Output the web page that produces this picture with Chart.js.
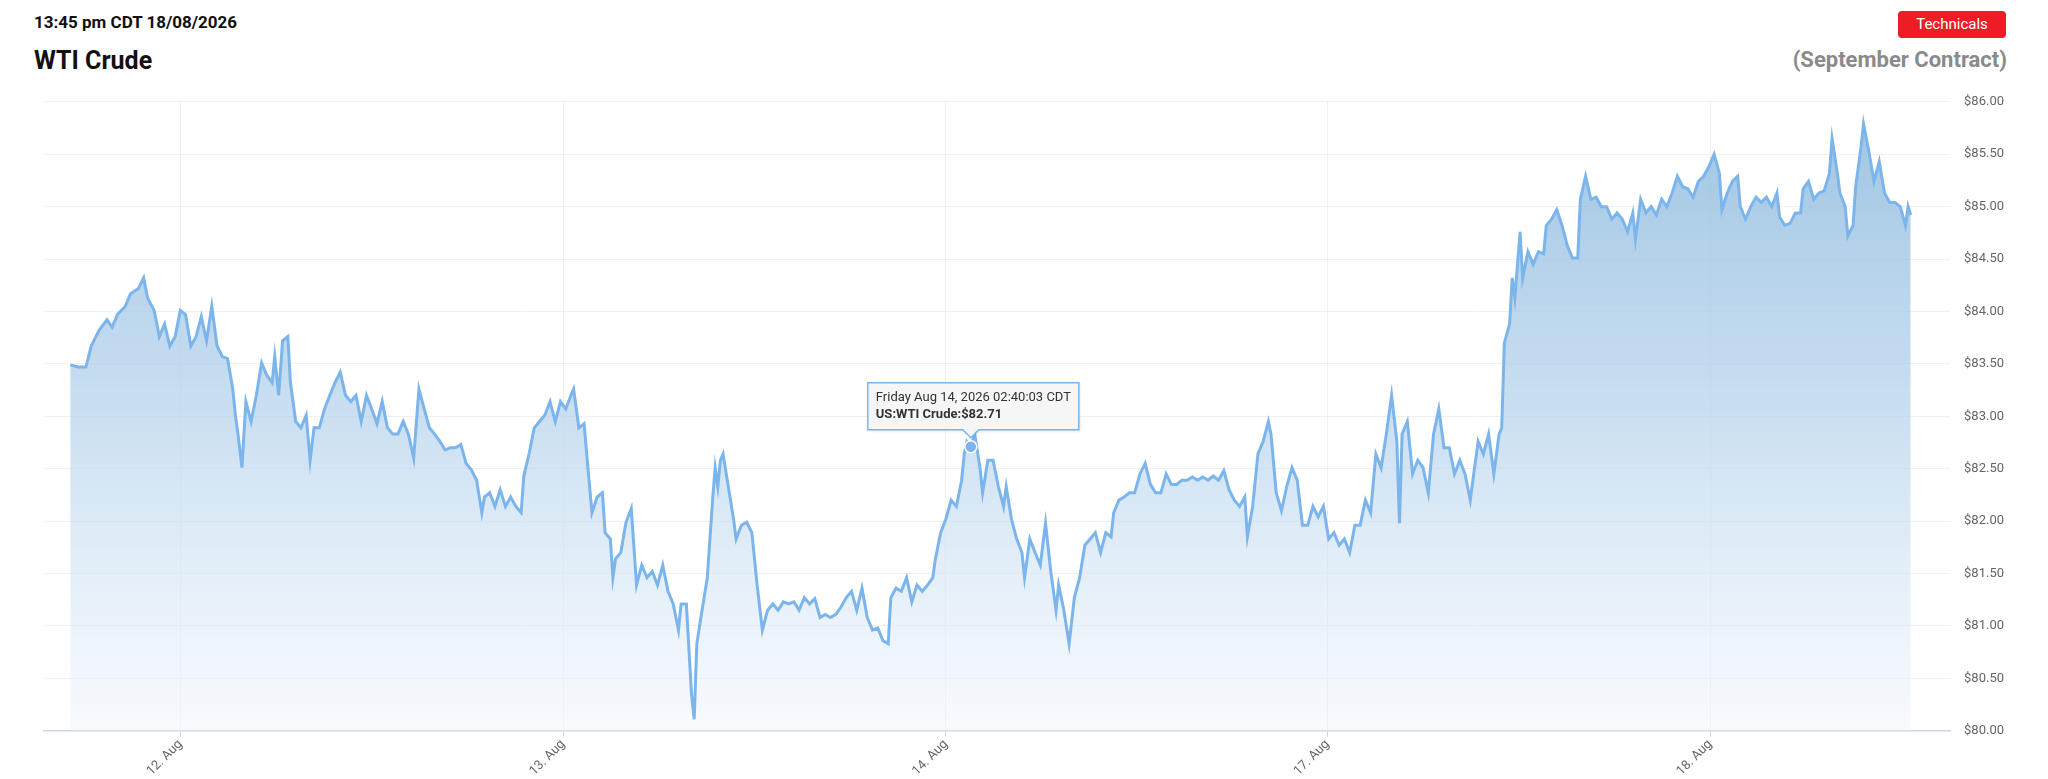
<!DOCTYPE html>
<html lang="en">
<head>
<meta charset="UTF-8">
<title>WTI Crude</title>
<script src="https://cdn.jsdelivr.net/npm/chart.js@4.4.0/dist/chart.umd.min.js"></script>
<style>
  body { margin: 0; width: 2048px; height: 779px; background: #fff; font-family: Roboto, sans-serif; position: relative; overflow: hidden; }
  .stamp { position: absolute; left: 34px; top: 12px; font-size: 17px; font-weight: bold; color: #111; }
  .title { position: absolute; left: 34px; top: 46px; font-size: 25px; font-weight: bold; color: #111; }
  .contract { position: absolute; right: 41px; top: 47px; font-size: 22px; font-weight: bold; color: #8a8a8a; }
  .btn { position: absolute; left: 1898px; top: 11px; width: 108px; height: 27px; background: #ee1c25; color: #fff; border-radius: 4px; font-size: 15px; text-align: center; line-height: 27px; }
  .chart-wrapper { position: absolute; left: 0; top: 80px; width: 2048px; height: 699px; }
</style>
</head>
<body>
  <div class="stamp">13:45 pm CDT 18/08/2026</div>
  <div class="title">WTI Crude</div>
  <div class="contract">(September Contract)</div>
  <div class="btn">Technicals</div>
  <div class="chart-wrapper"><canvas id="wti"></canvas></div>

<script>
// time axis in session units (one trading day = 292 units)
const dayTicks = [138, 430, 722, 1013, 1305];
const dayLabels = ['12. Aug', '13. Aug', '14. Aug', '17. Aug', '18. Aug'];
const yTicks = [80, 80.5, 81, 81.5, 82, 82.5, 83, 83.5, 84, 84.5, 85, 85.5, 86];

const times = [
  54,60,66,70,76,82,86,90,96,100,106,110,113,118,122,126,130,134,138,142,146,150,154,158,162,166,170,174,178,180,
  182,185,188,192,196,200,204,208,210,213,216,220,222,226,230,234,237,240,244,248,252,256,260,264,268,272,276,280,284,288,
  292,296,300,304,308,312,316,320,324,328,332,336,340,344,348,352,356,360,364,368,370,374,378,382,386,390,394,398,400,404,
  408,412,416,420,424,428,432,436,438,442,446,448,452,456,460,462,466,468,470,474,478,482,486,490,494,498,502,506,510,514,
  518,520,524,528,530,532,536,540,544,546,548,550,552,556,560,562,566,570,574,576,578,582,586,590,594,598,602,606,610,614,
  618,622,626,630,634,638,642,646,650,654,658,662,666,670,674,678,680,684,688,692,696,700,704,708,712,714,718,722,726,730,
  734,736,738,741,744,748,750,754,758,762,766,768,772,776,780,782,786,790,794,798,802,806,808,812,816,820,824,828,832,836,
  840,844,848,850,854,858,862,866,870,874,878,882,886,890,894,898,902,906,910,914,918,922,926,930,934,938,942,946,950,952,
  956,960,964,968,970,974,978,982,986,990,994,998,1002,1006,1010,1014,1018,1022,1026,1030,1034,1038,1042,1046,1050,1054,1058,1062,1066,1068,
  1070,1074,1078,1082,1086,1090,1094,1098,1102,1106,1110,1114,1118,1122,1124,1128,1132,1136,1140,1142,1144,1146,1148,1152,1154,1156,1160,1162,1166,1170,
  1174,1178,1180,1184,1188,1192,1196,1200,1204,1206,1210,1214,1218,1222,1226,1230,1234,1238,1242,1246,1248,1252,1256,1260,1264,1268,1272,1276,1280,1284,
  1288,1292,1296,1300,1304,1308,1312,1314,1318,1322,1326,1328,1332,1336,1340,1344,1348,1352,1356,1358,1362,1366,1370,1374,1376,1380,1384,1388,1392,1396,
  1398,1402,1404,1408,1410,1414,1416,1420,1422,1426,1430,1434,1438,1442,1446,1450,1454,1456,1458
];

const prices = [
  83.49,83.47,83.47,83.67,83.82,83.92,83.85,83.97,84.05,84.17,84.22,84.32,84.13,84.01,83.76,83.88,83.67,83.76,84.01,83.97,83.67,83.76,83.95,83.72,84.05,83.67,83.57,83.55,83.26,83.01,
  82.83,82.51,83.14,82.95,83.20,83.51,83.39,83.32,83.57,83.20,83.72,83.76,83.32,82.95,82.89,83.01,82.58,82.89,82.89,83.07,83.20,83.32,83.42,83.20,83.14,83.20,82.95,83.20,83.07,82.93,
  83.14,82.89,82.83,82.83,82.95,82.83,82.60,83.26,83.07,82.89,82.83,82.76,82.68,82.70,82.70,82.73,82.55,82.49,82.39,82.08,82.23,82.27,82.14,82.30,82.14,82.23,82.14,82.08,82.43,82.64,
  82.89,82.95,83.01,83.14,82.95,83.14,83.07,83.20,83.26,82.89,82.93,82.64,82.08,82.23,82.27,81.89,81.83,81.46,81.64,81.70,81.99,82.12,81.39,81.58,81.46,81.52,81.39,81.58,81.33,81.21,
  80.96,81.21,81.21,80.34,80.11,80.83,81.15,81.46,82.20,82.51,82.33,82.58,82.64,82.33,82.02,81.83,81.96,81.99,81.89,81.64,81.39,80.96,81.15,81.21,81.15,81.23,81.21,81.23,81.15,81.27,
  81.21,81.26,81.08,81.11,81.08,81.11,81.18,81.27,81.33,81.15,81.36,81.08,80.96,80.98,80.86,80.83,81.27,81.36,81.33,81.46,81.23,81.39,81.33,81.39,81.46,81.64,81.89,82.02,82.20,82.14,
  82.39,82.64,82.76,82.71,82.83,82.51,82.27,82.58,82.58,82.33,82.14,82.33,82.02,81.83,81.70,81.46,81.83,81.70,81.58,81.98,81.52,81.15,81.39,81.15,80.83,81.27,81.46,81.77,81.83,81.89,
  81.70,81.89,81.85,82.08,82.20,82.23,82.27,82.27,82.45,82.55,82.35,82.27,82.27,82.45,82.35,82.35,82.39,82.39,82.42,82.39,82.42,82.39,82.43,82.39,82.48,82.30,82.20,82.14,82.23,81.85,
  82.14,82.64,82.76,82.95,82.83,82.27,82.10,82.33,82.51,82.39,81.96,81.96,82.14,82.04,82.14,81.83,81.89,81.77,81.83,81.70,81.96,81.96,82.20,82.08,82.64,82.51,82.83,83.20,82.76,81.98,
  82.83,82.95,82.45,82.58,82.51,82.27,82.83,83.07,82.70,82.70,82.45,82.58,82.45,82.20,82.39,82.76,82.64,82.83,82.45,82.64,82.83,82.89,83.70,83.88,84.32,84.13,84.76,84.32,84.57,84.45,
  84.57,84.55,84.82,84.88,84.97,84.82,84.63,84.51,84.51,85.07,85.29,85.07,85.09,85.00,85.00,84.88,84.94,84.88,84.76,84.94,84.69,85.07,84.94,85.00,84.92,85.07,85.00,85.13,85.29,85.19,
  85.17,85.09,85.24,85.29,85.38,85.50,85.32,84.97,85.13,85.24,85.29,85.00,84.88,85.00,85.09,85.04,85.09,85.00,85.13,84.90,84.82,84.84,84.94,84.94,85.17,85.24,85.07,85.13,85.15,85.32,
  85.65,85.32,85.13,85.00,84.72,84.82,85.19,85.56,85.79,85.53,85.24,85.43,85.13,85.04,85.04,85.00,84.82,85.00,84.92
];

const tooltipIndex = times.indexOf(741);

// custom tooltip drawn like the page's hover box
const hoverBox = {
  id: 'hoverBox',
  afterDatasetsDraw(chart) {
    const ctx = chart.ctx;
    const pt = chart.getDatasetMeta(0).data[tooltipIndex];
    const x = pt.x, y = pt.y;
    ctx.save();
    ctx.beginPath();
    ctx.arc(x, y, 6, 0, Math.PI * 2);
    ctx.fillStyle = '#7cb5ec';
    ctx.fill();
    ctx.lineWidth = 1.5;
    ctx.strokeStyle = '#fff';
    ctx.stroke();
    const bx = x - 103, by = y - 64, bw = 211, bh = 47;
    ctx.shadowColor = 'rgba(0,0,0,0.15)';
    ctx.shadowOffsetX = 1; ctx.shadowOffsetY = 1; ctx.shadowBlur = 3;
    ctx.beginPath();
    ctx.moveTo(bx, by); ctx.lineTo(bx + bw, by); ctx.lineTo(bx + bw, by + bh);
    ctx.lineTo(x + 8, by + bh); ctx.lineTo(x, by + bh + 8); ctx.lineTo(x - 8, by + bh);
    ctx.lineTo(bx, by + bh); ctx.closePath();
    ctx.fillStyle = 'rgba(247,247,247,0.95)';
    ctx.fill();
    ctx.shadowColor = 'transparent';
    ctx.strokeStyle = '#7cb5ec';
    ctx.lineWidth = 1.5;
    ctx.stroke();
    ctx.fillStyle = '#333';
    ctx.textBaseline = 'middle';
    ctx.font = '13px Roboto';
    ctx.fillText('Friday Aug 14, 2026 02:40:03 CDT', bx + 8, by + 15);
    ctx.font = 'bold 13px Roboto';
    ctx.fillText('US:WTI Crude:$' + prices[tooltipIndex].toFixed(2), bx + 8, by + 32);
    ctx.restore();
  }
};

const ctx = document.getElementById('wti').getContext('2d');
new Chart(ctx, {
  type: 'line',
  data: {
    datasets: [{
      data: times.map((t, i) => ({ x: t, y: prices[i] })),
      borderColor: '#7cb5ec',
      borderWidth: 3,
      pointRadius: 0,
      tension: 0,
      fill: 'start',
      backgroundColor: (c) => {
        const area = c.chart.chartArea;
        if (!area) return 'rgba(124,181,236,0.4)';
        const g = c.chart.ctx.createLinearGradient(0, area.top, 0, area.bottom);
        g.addColorStop(0, 'rgba(140,185,220,0.85)');
        g.addColorStop(0.5, 'rgba(180,210,236,0.7)');
        g.addColorStop(1, 'rgba(240,246,253,0.5)');
        return g;
      }
    }]
  },
  options: {
    responsive: true,
    maintainAspectRatio: false,
    animation: false,
    layout: { padding: { left: 44, right: 30, top: 9, bottom: 0 } },
    plugins: { legend: { display: false }, tooltip: { enabled: false } },
    scales: {
      x: {
        type: 'linear',
        min: 34, max: 1488,
        afterBuildTicks: (s) => { s.ticks = dayTicks.map(v => ({ value: v })); },
        ticks: {
          autoSkip: false,
          maxRotation: 45, minRotation: 45, padding: 0,
          color: '#666', font: { family: 'Roboto', size: 13 },
          callback: (v) => dayLabels[dayTicks.indexOf(v)]
        },
        grid: { color: '#f0f0f0', tickColor: '#ccd6eb', tickLength: 6 },
        border: { color: '#ccd6eb', width: 1.5 }
      },
      y: {
        position: 'right',
        min: 80, max: 86,
        afterBuildTicks: (s) => { s.ticks = yTicks.map(v => ({ value: v })); },
        ticks: {
          color: '#666', font: { family: 'Roboto', size: 13 }, padding: 14,
          callback: (v) => '$' + v.toFixed(2)
        },
        grid: { color: '#f0f0f0', drawTicks: false },
        border: { display: false }
      }
    }
  },
  plugins: [hoverBox]
});
</script>
</body>
</html>
